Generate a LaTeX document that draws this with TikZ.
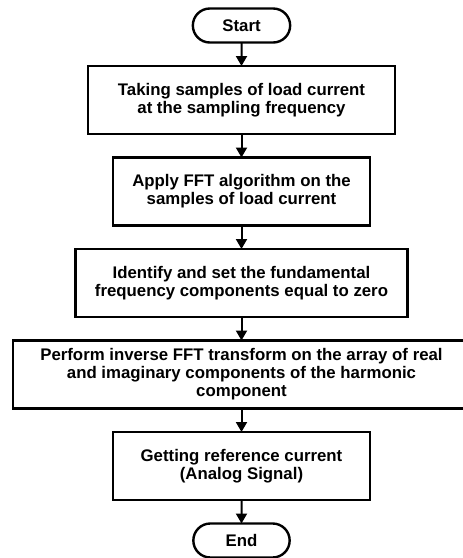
\documentclass[tikz,border=0pt]{standalone}
\usepackage{fontspec}
\setmainfont{Liberation Sans}
\usetikzlibrary{shapes.misc, arrows.meta, positioning}
\tikzset{
    startstop/.style = {
        rounded rectangle, draw,
        line width=2.4pt,
        outer sep=0pt,
        minimum width=104pt,
        minimum height=34pt,
        align=center
    },
    process/.style = {
        rectangle, draw,
        line width=2.4pt,
        outer sep=0pt,
        minimum height=68pt,
        inner sep=0pt,
        align=center
    },
    arrow/.style = {
        -{Triangle[length=10pt, width=11pt]}, line width=2pt
    }
}

\begin{document}
\begin{tikzpicture}[node distance=23.5pt,
    every node/.style={font=\fontsize{16.8}{18}\selectfont\bfseries}]

\useasboundingbox (0,0) rectangle (463pt,-558pt);

\node (start) [startstop] at (241.5pt,-25.5pt) {Start};
\node (samples) [process, minimum width=307pt, below=of start] {Taking samples of load current\\at the sampling frequency};
\node (fft) [process, minimum width=257pt, below=of samples] {Apply FFT algorithm on the\\samples of load current};
\node (zero) [process, minimum width=332pt, below=of fft] {Identify and set the fundamental\\frequency components equal to zero};
\node (ifft) [process, minimum width=457pt, below=of zero] {Perform inverse FFT transform on the array of real\\and imaginary components of the harmonic\\component};
\node (ref) [process, minimum width=257pt, below=of ifft] {Getting reference current\\(Analog Signal)};
\node (end) [startstop, minimum width=103pt, below=of ref] {End};

\draw [arrow] (start) -- (samples);
\draw [arrow] (samples) -- (fft);
\draw [arrow] (fft) -- (zero);
\draw [arrow] (zero) -- (ifft);
\draw [arrow] (ifft) -- (ref);
\draw [arrow] (ref) -- (end);

\end{tikzpicture}
\end{document}
